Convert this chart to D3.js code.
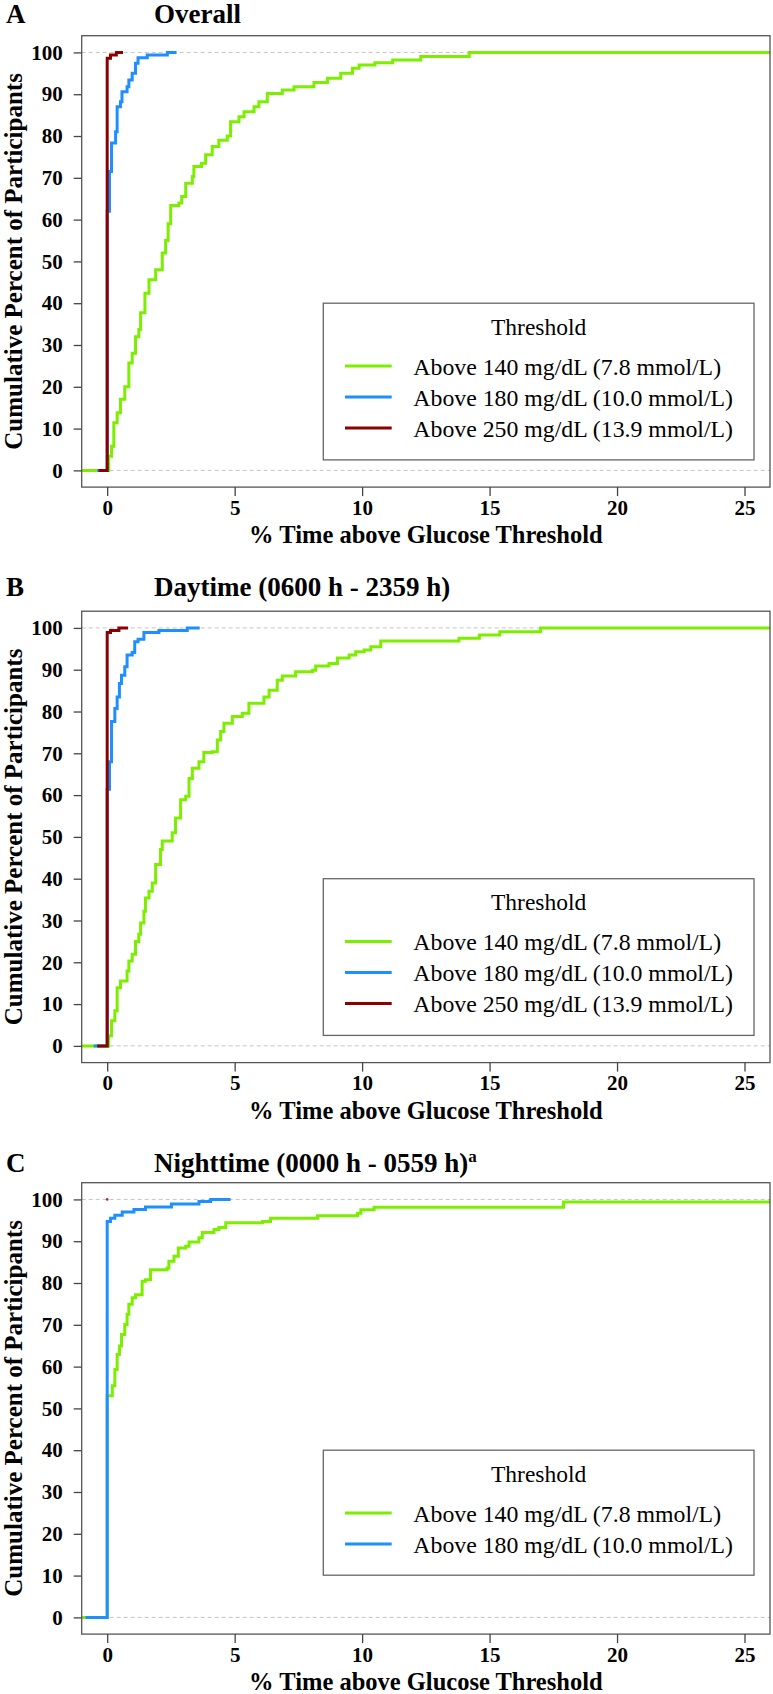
<!DOCTYPE html>
<html><head><meta charset="utf-8">
<script src="https://cdn.jsdelivr.net/npm/d3@7"></script>
<style>body{margin:0;background:#fff} text{font-family:"Liberation Serif","Times New Roman",serif;}</style>
</head><body>
<svg id="c" width="773" height="1694" xmlns="http://www.w3.org/2000/svg"></svg>
<script>
// ---------------- data ----------------
const xTickValues = [0, 5, 10, 15, 20, 25];
const yTickValues = [0, 10, 20, 30, 40, 50, 60, 70, 80, 90, 100];
const thresholdLabels = ["Above 140 mg/dL (7.8 mmol/L)", "Above 180 mg/dL (10.0 mmol/L)", "Above 250 mg/dL (13.9 mmol/L)"];
const panelLetters = ["A", "B", "C"];
const panelTitles = ["Overall", "Daytime (0600 h - 2359 h)", "Nighttime (0000 h - 0559 h)"];
const panelTitleSup = ["", "", "a"];
const xLabel = "% Time above Glucose Threshold";
const yLabel = "Cumulative Percent of Participants";
const legendTitle = "Threshold";

const overall140 = [[-1,0],[0.06,3.4],[0.17,5.8],[0.26,11.4],[0.39,13.8],[0.52,17],[0.69,20],[0.85,25.7],[0.98,28],[1.11,32],[1.24,33.7],[1.31,37.7],[1.48,42.4],[1.64,45.6],[1.9,48],[2.16,52],[2.29,55],[2.39,59],[2.49,63.4],[2.81,64],[2.92,65.5],[3.08,68.7],[3.34,70.3],[3.4,72.7],[3.7,73.5],[3.86,75.5],[4.12,77.5],[4.38,79],[4.71,80],[4.84,83.4],[5.17,84.6],[5.37,85.8],[5.76,87],[5.95,88.2],[6.28,90.2],[6.87,91],[7.33,91.8],[8.11,92.8],[8.64,93.8],[9.16,95],[9.62,96.2],[9.88,97],[10.5,97.5],[11.2,98.2],[12.3,99],[14.2,100],[26,100]];
const overall180 = [[-0.39,0],[0,62],[0.09,71.5],[0.17,78.3],[0.33,81],[0.39,87],[0.52,88.2],[0.58,90.6],[0.78,91.8],[0.85,93.4],[0.98,95],[1.11,97.4],[1.21,98.7],[1.57,99.4],[2.36,100],[2.72,100]];
const overall250 = [[-0.34,0],[0,98.6],[0.13,99.4],[0.36,100],[0.62,100]];

const daytime140 = [[-1,0],[0.06,2.4],[0.17,6],[0.3,8.4],[0.39,13.9],[0.52,15.5],[0.78,17.9],[0.85,20.3],[0.98,21.9],[1.11,25],[1.24,26.7],[1.31,29.4],[1.44,32.2],[1.5,35.4],[1.64,37],[1.77,39],[1.9,43.4],[2.09,47],[2.16,49],[2.55,51],[2.68,54.5],[2.88,58.9],[3.08,59.7],[3.21,64],[3.34,66.4],[3.6,68],[3.79,70.2],[4.12,70.4],[4.32,73.2],[4.45,75.2],[4.58,77.2],[4.91,78.8],[5.3,79.6],[5.56,82],[6.15,83.5],[6.35,85.1],[6.67,87.5],[6.87,88.5],[7.39,89.5],[8.05,89.9],[8.18,90.9],[8.7,91.5],[9.03,92.8],[9.49,93.5],[9.75,94.3],[10.08,94.7],[10.34,95.5],[10.73,96.9],[13.8,97.5],[14.6,98.3],[15.4,99.1],[17,100],[26,100]];
const daytime180 = [[-0.53,0],[0,61.4],[0.09,68],[0.17,77.6],[0.3,80.7],[0.39,83.5],[0.48,86.7],[0.56,88.7],[0.69,90.7],[0.78,93.5],[0.98,94.1],[1.08,96.7],[1.21,97.3],[1.44,98.9],[2.03,99.4],[3.14,100],[3.63,100]];
const daytime250 = [[-0.39,0],[0,98.9],[0.13,99.4],[0.46,100],[0.82,100]];

const nighttime140 = [[-1,0],[0,53],[0.2,55.4],[0.3,59.3],[0.39,62.9],[0.48,64.9],[0.56,67.7],[0.69,70.1],[0.78,72.5],[0.85,74.9],[0.98,76.5],[1.11,77.2],[1.37,80.4],[1.5,80.8],[1.7,83.2],[2.35,83.6],[2.42,85.2],[2.62,86.4],[2.79,88.4],[3.08,88.8],[3.21,89.8],[3.6,90.8],[3.73,92.1],[4.19,92.8],[4.38,93.3],[4.65,94.4],[6.09,94.7],[6.41,95.5],[8.25,96.1],[9.82,96.7],[9.95,97.5],[10.47,98.1],[17.9,99.4],[26,99.4]];
const nighttime180 = [[-0.85,0],[0,94.7],[0.13,95.5],[0.3,96.2],[0.59,97],[1.05,97.6],[1.5,98.2],[2.52,98.9],[3.6,99.5],[4.06,100],[4.84,100]];
const nighttime250 = [[0,100]];

const seriesColors = ["#7CEE00", "#1E8FFF", "#8B0000"];
const panelSeries = [
  [overall140, overall180, overall250],
  [daytime140, daytime180, daytime250],
  [nighttime140, nighttime180, nighttime250]
];
const panelLegendCount = [3, 3, 2];

// ---------------- layout ----------------
const plotLeft = 81.7, plotRight = 770;
const panelTop = [35.7, 611.2, 1182.7];
const plotH = 451.4;
const titleBaseline = [22.7, 596, 1171.7];

const svg = d3.select("#c");
svg.append("rect").attr("width", 773).attr("height", 1694).attr("fill", "#fff");

const x = d3.scaleLinear().domain([-1, 26]).range([plotLeft, plotRight]);

panelSeries.forEach((series, p) => {
  const top = panelTop[p], bottom = top + plotH;
  const y = d3.scaleLinear().domain([-4, 104]).range([bottom, top]);
  const g = svg.append("g");

  g.selectAll("line.grid").data([0, 100]).enter().append("line")
    .attr("x1", plotLeft).attr("x2", plotRight)
    .attr("y1", d => y(d)).attr("y2", d => y(d))
    .attr("stroke", "#c4c4c4").attr("stroke-width", 1).attr("stroke-dasharray", "4,3");

  const line = d3.line().x(d => x(d[0])).y(d => y(d[1])).curve(d3.curveStepAfter);
  series.forEach((s, i) => {
    if (s.length > 1) {
      g.append("path").attr("d", line(s)).attr("fill", "none")
        .attr("stroke", seriesColors[i]).attr("stroke-width", 3)
        .attr("stroke-linejoin", "miter");
    } else {
      g.append("circle").attr("cx", x(s[0][0])).attr("cy", y(s[0][1])).attr("r", 1.3)
        .attr("fill", seriesColors[i]).attr("opacity", 0.8);
    }
  });

  g.append("rect").attr("x", plotLeft).attr("y", top)
    .attr("width", plotRight - plotLeft).attr("height", plotH)
    .attr("fill", "none").attr("stroke", "#555").attr("stroke-width", 1.3);

  const ax = g.append("g").attr("transform", `translate(0,${bottom})`)
    .call(d3.axisBottom(x).tickValues(xTickValues).tickSize(9).tickPadding(4).tickFormat(d3.format("d")));
  const ay = g.append("g").attr("transform", `translate(${plotLeft},0)`)
    .call(d3.axisLeft(y).tickValues(yTickValues).tickSize(8).tickPadding(11).tickFormat(d3.format("d")));
  [ax, ay].forEach(a => {
    a.attr("font-family", null).attr("font-size", null);
    a.select(".domain").remove();
    a.selectAll(".tick line").attr("stroke", "#444").attr("stroke-width", 1.3);
    a.selectAll(".tick text").attr("fill", "#000")
      .style("font-weight", "bold").style("font-size", "21px");
  });
  ax.selectAll(".tick text").attr("dy", "0.7em");

  g.append("text").attr("x", 6).attr("y", titleBaseline[p]).text(panelLetters[p])
    .style("font-weight", "bold").style("font-size", "27px");
  const t = g.append("text").attr("x", 154).attr("y", titleBaseline[p])
    .style("font-weight", "bold").style("font-size", "27px");
  t.append("tspan").text(panelTitles[p]);
  if (panelTitleSup[p]) {
    t.append("tspan").attr("dy", -10).style("font-size", "17px").text(panelTitleSup[p]);
  }

  g.append("text").attr("x", (plotLeft + plotRight) / 2).attr("y", bottom + 56)
    .attr("text-anchor", "middle").text(xLabel)
    .style("font-weight", "bold").style("font-size", "24.5px");
  g.append("text").attr("transform", `translate(22,${(top + bottom) / 2}) rotate(-90)`)
    .attr("text-anchor", "middle").text(yLabel)
    .style("font-weight", "bold").style("font-size", "25px");

  const n = panelLegendCount[p];
  const lx = 323.3, lw = 754 - 323.3;
  const ltop = y(40);
  const lh = n === 3 ? 156.7 : 125;
  const lg = g.append("g");
  lg.append("rect").attr("x", lx).attr("y", ltop).attr("width", lw).attr("height", lh)
    .attr("fill", "#fff").attr("stroke", "#666").attr("stroke-width", 1.3);
  lg.append("text").attr("x", lx + lw / 2).attr("y", ltop + 31.5).attr("text-anchor", "middle")
    .text(legendTitle).style("font-size", "23.5px");
  for (let i = 0; i < n; i++) {
    const yy = ltop + 62.7 + i * 31;
    lg.append("line").attr("x1", lx + 21.7).attr("x2", lx + 68.4).attr("y1", yy).attr("y2", yy)
      .attr("stroke", seriesColors[i]).attr("stroke-width", 3);
    lg.append("text").attr("x", lx + 90).attr("y", yy + 9).text(thresholdLabels[i])
      .style("font-size", "23.8px");
  }
});
</script>
</body></html>
